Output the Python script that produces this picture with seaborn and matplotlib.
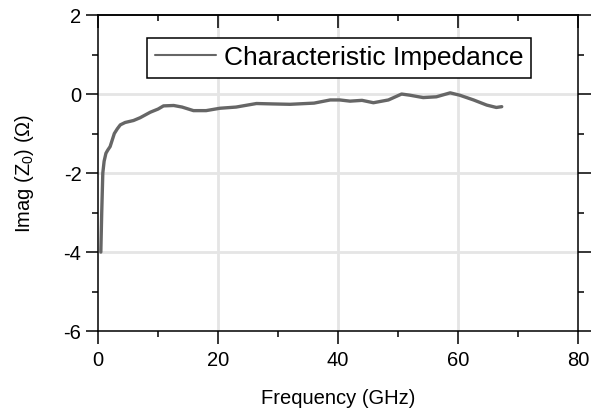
import matplotlib
matplotlib.use("Agg")
import matplotlib.pyplot as plt
import seaborn as sns
import pandas as pd
from matplotlib.ticker import MultipleLocator

# data
freq_ghz = [0.45, 0.6, 0.78, 1.0, 1.3, 1.6, 2.0, 2.7, 3.2, 3.7, 4.5, 5.9, 7.0,
            8.7, 10.0, 10.9, 12.6, 14.0, 15.9, 18.0, 20.3, 23.0, 26.4, 29.0,
            32.0, 36.0, 38.7, 40.3, 42.0, 44.0, 45.9, 48.4, 50.6, 52.0, 54.2,
            56.4, 58.7, 60.3, 62.6, 64.8, 66.4, 67.3]
imag_z0 = [-4.0, -3.0, -2.0, -1.7, -1.5, -1.42, -1.33, -1.0, -0.88, -0.78, -0.72,
           -0.67, -0.6, -0.46, -0.38, -0.3, -0.29, -0.33, -0.42, -0.42, -0.36,
           -0.33, -0.24, -0.25, -0.26, -0.23, -0.15, -0.15, -0.18, -0.16, -0.22,
           -0.15, 0.0, -0.03, -0.09, -0.07, 0.03, -0.03, -0.15, -0.28, -0.34, -0.32]
series_name = "Characteristic Impedance"

sns.set_style("ticks", {"axes.edgecolor": "black", "text.color": "black",
                        "axes.labelcolor": "black", "xtick.color": "black",
                        "ytick.color": "black"})
plt.rcParams["font.family"] = ["Liberation Sans", "DejaVu Sans"]
plt.rcParams["mathtext.default"] = "regular"
plt.rcParams["axes.unicode_minus"] = False

df = pd.DataFrame({"freq": freq_ghz, "imag": imag_z0, "series": series_name})

fig = plt.figure(figsize=(6.02, 4.17), dpi=100)
ax = fig.add_axes([0.163, 0.206, 0.797, 0.758])

sns.lineplot(data=df, x="freq", y="imag", ax=ax, color="#666666", linewidth=2.4,
             label=series_name)

ax.set_xlim(0, 80)
ax.set_ylim(-6, 2)
ax.xaxis.set_major_locator(MultipleLocator(20))
ax.xaxis.set_minor_locator(MultipleLocator(10))
ax.yaxis.set_major_locator(MultipleLocator(2))
ax.yaxis.set_minor_locator(MultipleLocator(1))

# light grid at major ticks, skip the axis edges
for x in [20, 40, 60]:
    ax.axvline(x, color="#e5e5e5", lw=2, zorder=0)
for y in [0, -2, -4]:
    ax.axhline(y, color="#e5e5e5", lw=2, zorder=0)

for s in ax.spines.values():
    s.set_visible(True)
    s.set_linewidth(1.1)
    s.set_color("black")

ax.tick_params(axis="both", which="major", direction="out", length=9, width=1.1,
               labelsize=14.5, color="black", labelcolor="black")
ax.tick_params(axis="both", which="minor", direction="out", length=4.5, width=1.1,
               color="black")
ax.tick_params(axis="x", which="both", bottom=True, top=False, pad=5)
ax.tick_params(axis="y", which="both", left=True, right=True, labelright=False, pad=3)

# top axis has inward ticks
top = ax.secondary_xaxis("top")
top.xaxis.set_major_locator(MultipleLocator(20))
top.xaxis.set_minor_locator(MultipleLocator(10))
top.tick_params(which="major", direction="in", length=9, width=1.1, labeltop=False,
                color="black")
top.tick_params(which="minor", direction="in", length=4.5, width=1.1, color="black")
top.spines["top"].set_linewidth(1.1)
top.spines["top"].set_color("black")

ax.set_xlabel("Frequency (GHz)", fontsize=14.5, labelpad=14, color="black")
ax.set_ylabel("Imag (Z$_{0}$) (Ω)", fontsize=14.5, labelpad=20, color="black")

leg = ax.legend(loc="upper center", bbox_to_anchor=(0.503, 0.928), fontsize=19,
                frameon=True, fancybox=False, edgecolor="black", framealpha=1,
                handlelength=2.3, handletextpad=0.3, borderpad=0.3,
                borderaxespad=0)
leg.get_frame().set_linewidth(1.1)
for t in leg.get_texts():
    t.set_color("black")
for h in leg.get_lines():
    h.set_linewidth(1.5)

fig.savefig("out.png", dpi=100)
